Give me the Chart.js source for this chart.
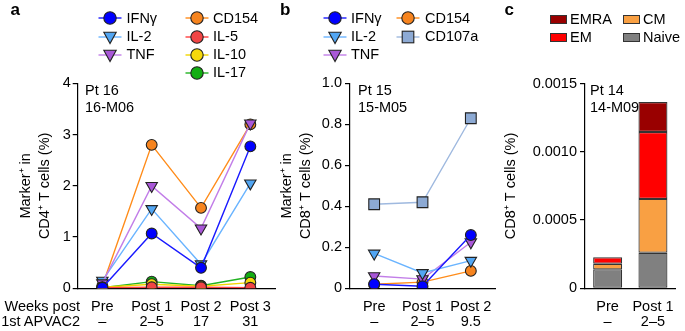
<!DOCTYPE html>
<html><head><meta charset="utf-8">
<script src="https://cdn.jsdelivr.net/npm/chart.js@4/dist/chart.umd.min.js"></script>
<style>
html,body{margin:0;padding:0;background:#fff;}
#wrap{position:relative;width:685px;height:331px;overflow:hidden;background:#fff;font-family:"Liberation Sans",Arial,sans-serif;color:#000;}
canvas{position:absolute;left:0;top:0;}
.t{position:absolute;font-size:14.5px;line-height:17px;white-space:nowrap;}
.L{position:absolute;font-weight:bold;font-size:17px;line-height:17px;}
svg{position:absolute;overflow:visible;}
</style></head><body>
<div id="wrap">
<canvas id="ca" width="685" height="331"></canvas>
<canvas id="cb" width="685" height="331"></canvas>
<canvas id="cc" width="685" height="331"></canvas>
</div>
<script>
// ---------- data ----------
const catsA = ['Pre', 'Post 1', 'Post 2', 'Post 3'];
const weeksA = ['–', '2–5', '17', '31'];
const ifngA  = [0.01, 1.07, 0.40, 2.77];
const il2A   = [0.15, 1.55, 0.47, 2.05];
const tnfA   = [0.10, 2.00, 1.17, 3.22];
const cd154A = [0.05, 2.80, 1.57, 3.20];
const il5A   = [0.01, 0.02, 0.02, 0.01];
const il10A  = [0.02, 0.08, 0.04, 0.11];
const il17A  = [0.01, 0.13, 0.05, 0.22];
const yTicksA = [0, 1, 2, 3, 4];

const catsB = ['Pre', 'Post 1', 'Post 2'];
const weeksB = ['–', '2–5', '9.5'];
const ifngB   = [0.02, 0.01, 0.26];
const il2B    = [0.17, 0.075, 0.135];
const tnfB    = [0.06, 0.045, 0.225];
const cd154B  = [0.02, 0.03, 0.085];
const cd107aB = [0.41, 0.42, 0.83];
const yTicksB = [0, 0.2, 0.4, 0.6, 0.8, 1.0];

const catsC = ['Pre', 'Post 1'];
const weeksC = ['–', '2–5'];
const naiveC = [0.000139, 0.000261];
const cmC    = [0.000041, 0.000394];
const emC    = [0.000047, 0.000490];
const emraC  = [0.0, 0.000220];
const yTicksC = [0, 0.0005, 0.0010, 0.0015];

// ---------- styles ----------
const FONT = {family: '"Liberation Sans", Arial, sans-serif', size: 14.5};
const BLK = '#000';
const PB = '#222';
const st = {
  ifng:  {fill:'#0000ff', line:'#1a1aff', shape:'circle'},
  il2:   {fill:'#52a6f3', line:'#6ab4ff', shape:'tri'},
  tnf:   {fill:'#a957d8', line:'#c27ee8', shape:'tri'},
  cd154: {fill:'#f7841e', line:'#ff8c1a', shape:'circle'},
  il5:   {fill:'#f04545', line:'#ff4040', shape:'circle'},
  il10:  {fill:'#f5d80c', line:'#f2d600', shape:'circle'},
  il17:  {fill:'#12ae12', line:'#22b322', shape:'circle'},
  cd107a:{fill:'#8daad4', line:'#9fb9df', shape:'rect'}
};

function ds(label, data, s, order) {
  const base = {label, data, order, borderColor: s.line, borderWidth: 1.4,
    pointBackgroundColor: s.fill, pointBorderColor: PB, pointBorderWidth: 1.1,
    fill: false, tension: 0};
  if (s.shape === 'circle') { base.pointStyle = 'circle'; base.pointRadius = 5.4; }
  else if (s.shape === 'tri') { base.pointStyle = 'triangle'; base.pointRotation = 180; base.pointRadius = 6.6; }
  else { base.pointStyle = 'rect'; base.pointRadius = 7.6; }
  return base;
}

function yAxis(min, max, ticksArr, fmt, title, width, titlePad, tickPad) {
  return {
    min, max,
    afterBuildTicks: s => { s.ticks = ticksArr.map(v => ({value: v})); },
    ticks: {color: BLK, font: FONT, padding: tickPad, callback: fmt},
    grid: {display: true, drawOnChartArea: false, drawTicks: true, tickLength: 5, color: BLK, lineWidth: 1.2},
    border: {display: true, color: BLK, width: 1.2},
    title: {display: true, text: title, color: BLK, font: Object.assign({}, FONT, {lineHeight: 1.3}), padding: {top: titlePad, bottom: 0}},
    afterFit: s => { s.width = width; }
  };
}
function xAxis(cats, weeks) {
  return {
    offset: true,
    grid: {display: false, drawTicks: false},
    border: {display: true, color: BLK, width: 1.2},
    ticks: {color: BLK, font: Object.assign({}, FONT, {lineHeight: 1.03}), padding: 11.5, maxRotation: 0, minRotation: 0,
      autoSkip: false, crossAlign: 'near',
      callback: (v, i) => [cats[i], weeks[i]]},
    afterFit: s => { s.height = 42.7; }
  };
}
const common = (pad) => ({responsive: false, animation: false, devicePixelRatio: 1,
  layout: {padding: pad},
  plugins: {legend: {display: false}, tooltip: {enabled: false}}});

// ---------- panel a ----------
new Chart(document.getElementById('ca'), {
  type: 'line',
  data: {labels: catsA, datasets: [
    ds('IFNγ', ifngA, st.ifng, 0),
    ds('IL-2', il2A, st.il2, 5),
    ds('TNF', tnfA, st.tnf, 4),
    ds('CD154', cd154A, st.cd154, 6),
    ds('IL-5', il5A, st.il5, 1),
    ds('IL-10', il10A, st.il10, 2),
    ds('IL-17', il17A, st.il17, 3)
  ]},
  options: Object.assign(common({left: 0, right: 410, top: 83.4, bottom: 0}), {
    scales: {x: xAxis(catsA, weeksA), y: yAxis(0, 4, yTicksA, v => String(v), ['Marker⁺ in', 'CD4⁺ T cells (%)'], 77.7, 17.0, 2)}
  })
});

// ---------- panel b ----------
new Chart(document.getElementById('cb'), {
  type: 'line',
  data: {labels: catsB, datasets: [
    ds('IFNγ', ifngB, st.ifng, 0),
    ds('IL-2', il2B, st.il2, 1),
    ds('TNF', tnfB, st.tnf, 2),
    ds('CD154', cd154B, st.cd154, 3),
    ds('CD107a', cd107aB, st.cd107a, 4)
  ]},
  options: Object.assign(common({left: 270, right: 190, top: 83.4, bottom: 0}), {
    scales: {x: xAxis(catsB, weeksB), y: yAxis(0, 1.0, yTicksB, v => v === 0 ? '0' : v.toFixed(1), ['Marker⁺ in', 'CD8⁺ T cells (%)'], 80, 7.5, 3)}
  })
});

// ---------- panel c ----------
const barDs = (label, data, color) => ({label, data, backgroundColor: color, borderColor: '#333', borderWidth: 1.2,
  borderSkipped: false, barPercentage: 0.64, categoryPercentage: 1.0});
const xc = xAxis(catsC, weeksC); xc.stacked = true;
const yc = yAxis(0, 0.0015, yTicksC, v => v === 0 ? '0' : v.toFixed(4), 'CD8⁺ T cells (%)', 95, 11.6, 3); yc.stacked = true;
new Chart(document.getElementById('cc'), {
  type: 'bar',
  data: {labels: catsC, datasets: [
    barDs('Naive', naiveC, '#808080'),
    barDs('CM', cmC, '#f9a043'),
    barDs('EM', emC, '#ff0000'),
    barDs('EMRA', emraC, '#990000')
  ]},
  options: Object.assign(common({left: 490, right: -2, top: 83.6, bottom: 0}), {
    scales: {x: xc, y: yc}
  })
});

// ---------- HTML text & legends ----------
const wrap = document.getElementById('wrap');
function txt(html, left, top, cls, extra) {
  const d = document.createElement('div');
  d.className = cls || 't';
  d.innerHTML = html;
  d.style.left = left + 'px'; d.style.top = top + 'px';
  if (extra) Object.assign(d.style, extra);
  wrap.appendChild(d);
  return d;
}
const NS = 'http://www.w3.org/2000/svg';
function lineMarker(cx, cy, s) {
  const svg = document.createElementNS(NS, 'svg');
  svg.setAttribute('width', 30); svg.setAttribute('height', 20);
  svg.style.left = (cx - 15) + 'px'; svg.style.top = (cy - 10) + 'px';
  let inner = `<line x1="3.5" y1="10" x2="26.5" y2="10" stroke="${s.line}" stroke-width="1.4"/>`;
  if (s.shape === 'circle') inner += `<circle cx="15" cy="10" r="6.2" fill="${s.fill}" stroke="${PB}" stroke-width="1.1"/>`;
  else if (s.shape === 'tri') inner += `<polygon points="15,16.6 8.8,5.2 21.2,5.2" fill="${s.fill}" stroke="${PB}" stroke-width="1.1"/>`;
  else inner += `<rect x="9.2" y="4.2" width="11.6" height="11.6" fill="${s.fill}" stroke="${PB}" stroke-width="1.1"/>`;
  svg.innerHTML = inner;
  wrap.appendChild(svg);
}
function boxMarker(x, cy, color) {
  const d = document.createElement('div');
  Object.assign(d.style, {position: 'absolute', left: x + 'px', top: (cy - 4.5) + 'px', width: '15px', height: '7px',
    background: color, border: '1px solid #333'});
  wrap.appendChild(d);
}
const capTop = c => c - 8.3;

// panel letters
txt('a', 10.5, 0.6, 'L');
txt('b', 280, 0.6, 'L');
txt('c', 504.5, 0.6, 'L');

// legend a
const rowsA = [18, 36.5, 54.5, 72.5];
[['IFNγ', st.ifng], ['IL-2', st.il2], ['TNF', st.tnf]].forEach((it, i) => {
  lineMarker(110, rowsA[i], it[1]); txt(it[0], 126.5, capTop(rowsA[i]));
});
[['CD154', st.cd154], ['IL-5', st.il5], ['IL-10', st.il10], ['IL-17', st.il17]].forEach((it, i) => {
  lineMarker(196.5, rowsA[i], it[1]); txt(it[0], 213, capTop(rowsA[i]));
});
// legend b
[['IFNγ', st.ifng], ['IL-2', st.il2], ['TNF', st.tnf]].forEach((it, i) => {
  lineMarker(335, rowsA[i], it[1]); txt(it[0], 351, capTop(rowsA[i]));
});
[['CD154', st.cd154], ['CD107a', st.cd107a]].forEach((it, i) => {
  lineMarker(408, rowsA[i], it[1]); txt(it[0], 425, capTop(rowsA[i]));
});
// legend c
const rowsC = [19.5, 37];
[['EMRA', '#990000'], ['EM', '#ff0000']].forEach((it, i) => { boxMarker(550, rowsC[i], it[1]); txt(it[0], 570, capTop(rowsC[i])); });
[['CM', '#f9a043'], ['Naive', '#808080']].forEach((it, i) => { boxMarker(623, rowsC[i], it[1]); txt(it[0], 643, capTop(rowsC[i])); });

// patient labels
txt('Pt 16<br>16-M06', 85, 81.7);
txt('Pt 15<br>15-M05', 358, 81.7);
txt('Pt 14<br>14-M09', 590, 81.7);

// x-axis row header
txt('Weeks post<br>1st APVAC2', 0, 299.2, 't', {width: '80px', textAlign: 'right', lineHeight: '15px'});
</script>
</body></html>
